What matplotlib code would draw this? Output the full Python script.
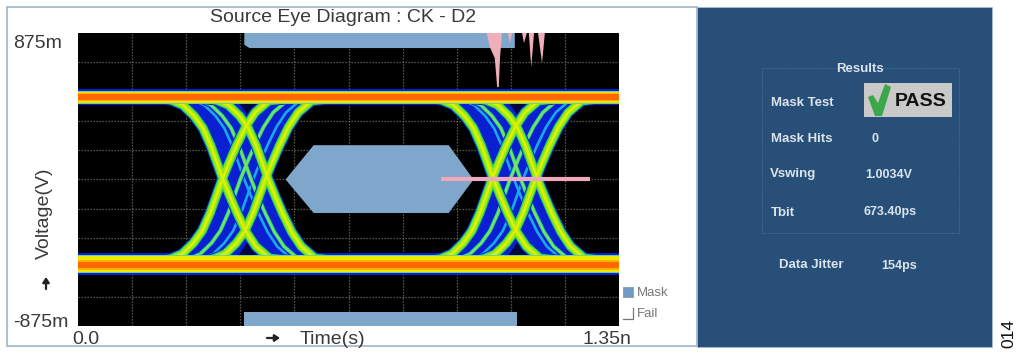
import matplotlib
matplotlib.use("Agg")
import matplotlib.pyplot as plt
from matplotlib.patches import Polygon, Rectangle

plt.rcParams['font.family'] = ['Liberation Sans', 'DejaVu Sans']

# ---- data (ps / mV) ----
T_MAX = 1350
V_MAX = 875
X_TICKS = [135, 270, 405, 540, 675, 810, 945, 1080, 1215]
Y_TICKS = [-700, -525, -350, -175, 0, 175, 350, 525, 700]

EDGE_OFFSET_FALL = [-190, -130, -100, -72, -50, -30, -15, 0, 17, 35, 58, 82, 116, 190]
EDGE_MV_FALL = [490, 475, 445, 380, 307, 200, 100, 0, -100, -200, -313, -400, -470, -490]
EDGE_OFFSET_RISE = [-190, -130, -100, -72, -50, -30, -15, 0, 17, 35, 58, 82, 116, 190]
EDGE_MV_RISE = [-490, -475, -445, -380, -307, -200, -100, 0, 100, 200, 313, 400, 470, 490]

MAIN_FALL = [362, 475, 1037, 1147]
MAIN_RISE = [360, 467, 1033, 1141]
MID_FALL = [432, 1105]
MID_RISE = [405, 1078]
THIN_FALL = [415, 1088]
THIN_RISE = [437, 1110]

ENV_T = [232, 262, 290, 312, 332, 347, 362, 345, 330, 310, 288, 260, 230, 660, 591, 557, 533, 510, 492, 467, 484, 502, 525, 549, 583, 660]
ENV_MV = [490, 445, 380, 307, 200, 100, 0, -100, -200, -307, -380, -445, -490, -490, -470, -400, -313, -200, -100, 0, 100, 200, 313, 400, 470, 490]
EYE_SHIFT = [0, 673.4]
NOTCH_TOP_T = [398, 452, 425]
NOTCH_TOP_MV = [470, 470, 380]
NOTCH_BOT_T = [393, 455, 424]
NOTCH_BOT_MV = [-480, -480, -370]

MASK_TOP_T = [415, 1090, 1090, 428, 415]
MASK_TOP_MV = [875, 875, 785, 785, 805]
MASK_BOT_T = [415, 1095, 1095, 415]
MASK_BOT_MV = [-790, -790, -875, -875]
MASK_MID_T = [518, 588, 925, 987, 925, 588]
MASK_MID_MV = [0, 205, 205, 0, -200, -200]

FAIL_T = [905, 1277]
FAIL_MV = [0, 0]

SPIKES_T = [
    [1020, 1028, 1040, 1046, 1050, 1053, 1058],
    [1073, 1078, 1083],
    [1108, 1113, 1120],
    [1125, 1131, 1138],
    [1148, 1158, 1165],
]
SPIKES_MV = [
    [875, 790, 725, 552, 552, 725, 875],
    [875, 815, 875],
    [875, 815, 875],
    [875, 672, 875],
    [875, 695, 875],
]

RAIL_HALO = [(543, 442, '#0a1fd0'), (-439, -570, '#0a1fd0')]
RAIL_TOP = [(531, 451, '#70d0a0'), (522, 457, '#f0e000'),
            (517, 466, '#ffb000'), (513, 475, '#ff6a00')]
RAIL_BOT = [(-448, -561, '#70d0a0'), (-457, -552, '#e8ea00'),
            (-478, -543, '#ffb000'), (-492, -528, '#ff6a00')]

TITLE = "Source Eye Diagram : CK - D2"
RESULT_LABELS = ["Mask Test", "Mask Hits", "Vswing", "Tbit"]
RESULT_VALUES = ["", "0", "1.0034V", "673.40ps"]

# ---- figure ----
fig = plt.figure(figsize=(10.24, 3.54), dpi=100, facecolor='white')
W, H = 1024, 354

bg = fig.add_axes([0, 0, 1, 1], zorder=0)
bg.set_xlim(0, W); bg.set_ylim(H, 0); bg.axis('off')
bg.add_patch(Rectangle((7, 7), 690, 339, fc='white', ec='#9fb4c6', lw=1.2))
bg.add_patch(Rectangle((697, 6.5), 295, 340.5, fc='#274f78', ec='#a9bccb', lw=0.6))

ax = fig.add_axes([78 / W, 1 - 326 / H, 541 / W, 293 / H], zorder=1, facecolor='black')
ax.set_xlim(0, T_MAX); ax.set_ylim(-V_MAX, V_MAX)
ax.set_xticks(X_TICKS); ax.set_yticks(Y_TICKS)
ax.tick_params(length=0, labelbottom=False, labelleft=False)
for s in ax.spines.values():
    s.set_visible(False)
ax.set_axisbelow(True)
ax.grid(True, color='#6e6e5e', lw=0.9, ls=(0, (1, 1.4)), zorder=1)

MASK_C = '#7fa6cb'
for tt, vv in [(MASK_TOP_T, MASK_TOP_MV), (MASK_BOT_T, MASK_BOT_MV), (MASK_MID_T, MASK_MID_MV)]:
    ax.fill(tt, vv, color=MASK_C, lw=0, zorder=2)

for a, b, c in RAIL_HALO:
    ax.axhspan(b, a, color=c, lw=0, zorder=2.9)

for sh in EYE_SHIFT:
    ax.fill([t + sh for t in ENV_T], ENV_MV, color='#0a1fd0', lw=0, zorder=3)
    ax.fill([t + sh for t in NOTCH_TOP_T], NOTCH_TOP_MV, color='#000640', lw=0, zorder=3.2)
    ax.fill([t + sh for t in NOTCH_BOT_T], NOTCH_BOT_MV, color='#000640', lw=0, zorder=3.2)


def draw(centres, off, mv, layers, z):
    for i, (lw, col) in enumerate(layers):
        for c in centres:
            ax.plot([c + o for o in off], mv, color=col, lw=lw, zorder=z + i * 0.01,
                    solid_capstyle='butt', solid_joinstyle='round')


THIN = [(3.4, '#0a1fd0'), (1.9, '#1aa8e8')]
MID = [(4.2, '#0a1fd0'), (2.8, '#28c8a0'), (1.5, '#78e850')]
MAIN = [(8.0, '#0a1fd0'), (6.6, '#26d060'), (4.8, '#98ea18'), (1.8, '#e0f000')]
draw(THIN_FALL, EDGE_OFFSET_FALL, EDGE_MV_FALL, THIN, 3.4)
draw(THIN_RISE, EDGE_OFFSET_RISE, EDGE_MV_RISE, THIN, 3.4)
draw(MID_FALL, EDGE_OFFSET_FALL, EDGE_MV_FALL, MID, 3.5)
draw(MID_RISE, EDGE_OFFSET_RISE, EDGE_MV_RISE, MID, 3.5)
draw(MAIN_FALL, EDGE_OFFSET_FALL, EDGE_MV_FALL, MAIN, 3.6)
draw(MAIN_RISE, EDGE_OFFSET_RISE, EDGE_MV_RISE, MAIN, 3.6)

for i, (a, b, c) in enumerate(RAIL_TOP + RAIL_BOT):
    ax.axhspan(b, a, color=c, lw=0, zorder=5 + i * 0.01)

for tt, vv in zip(SPIKES_T, SPIKES_MV):
    ax.fill(tt, vv, color='#f0afb8', lw=0, zorder=6)
ax.plot(FAIL_T, FAIL_MV, color='#f0a8bc', lw=3, solid_capstyle='butt', zorder=6)

# ---- overlay: text and decorations in pixel coordinates ----
ov = fig.add_axes([0, 0, 1, 1], zorder=2)
ov.set_xlim(0, W); ov.set_ylim(H, 0); ov.axis('off'); ov.patch.set_alpha(0)

DARK = '#3a3a3a'
ov.text(343, 17, TITLE, fontsize=14, color=DARK, ha='center', va='center')
ov.text(13, 43.5, "875m", fontsize=14, color=DARK, va='center')
ov.text(13, 322.5, "-875m", fontsize=14, color=DARK, va='center')
ov.text(72, 339.5, "0.0", fontsize=14, color=DARK, va='center')
ov.text(582, 339.5, "1.35n", fontsize=14, color=DARK, va='center')
ov.text(299.5, 339.5, "Time(s)", fontsize=14, color=DARK, va='center')
ov.text(44, 213, "Voltage(V)", fontsize=14, color=DARK, rotation=90, ha='center', va='center')
ov.annotate('', xy=(280, 338), xytext=(267, 338),
            arrowprops=dict(arrowstyle='-|>,head_width=0.2,head_length=0.3', color='#222', lw=1.6,
                            shrinkA=0, shrinkB=0))
ov.annotate('', xy=(46, 277), xytext=(46, 289),
            arrowprops=dict(arrowstyle='-|>,head_width=0.2,head_length=0.3', color='#222', lw=1.6,
                            shrinkA=0, shrinkB=0))

ov.add_patch(Rectangle((623, 287), 10, 10, fc='#6f9bc4', ec='#8a9aa8', lw=0.6))
ov.text(637, 293, "Mask", fontsize=9.5, color='#777777', va='center')
ov.plot([623, 633, 633], [319, 319, 308], color='#777777', lw=0.9)
ov.text(637, 314, "Fail", fontsize=9.5, color='#777777', va='center')

# results panel
TXT = '#dbe3ec'
ov.plot([848, 762, 762, 959, 959, 872], [68, 68, 233, 233, 68, 68], color='#4f7399', lw=0.7, ls=(0, (1, 1.2)))
ov.text(860, 69, "Results", fontsize=9.5, fontweight='bold', color=TXT, ha='center', va='center')
LABEL_X = [771, 771, 770, 771]
ROW_Y = [102.5, 139.5, 174.5, 212.5]
VALUE_X = [0, 872, 865, 863]
for lab, val, lx, vx, y in zip(RESULT_LABELS, RESULT_VALUES, LABEL_X, VALUE_X, ROW_Y):
    ov.text(lx, y, lab, fontsize=9.5, fontweight='bold', color=TXT, va='center')
    if val:
        ov.text(vx, y, val, fontsize=9, fontweight='bold', color=TXT, va='center')
ov.text(779, 265.5, "Data Jitter", fontsize=9.5, fontweight='bold', color=TXT, va='center')
ov.text(881, 265.5, "154ps", fontsize=9, fontweight='bold', color=TXT, va='center')

ov.add_patch(Rectangle((864, 83), 88, 34, fc='#c9c9c9', ec='none'))
ov.add_patch(Polygon([(868, 97), (875, 116), (882, 116), (891, 87), (885, 84), (878, 103), (873, 95)],
                     closed=True, fc='#3aa84a', ec='none'))
ov.text(895, 102, "PASS", fontsize=14, fontweight='bold', color='#111111', va='center')

ov.text(1009, 334, "014", fontsize=12.5, color='#111111', rotation=90, ha='center', va='center')

fig.savefig('out.png', dpi=100)
